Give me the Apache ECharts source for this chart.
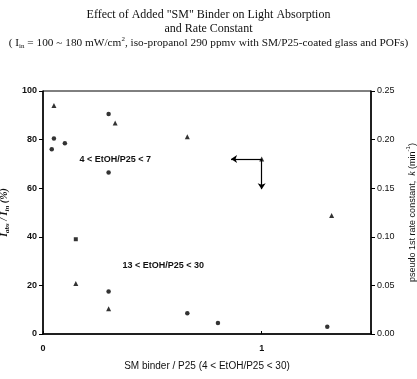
<!DOCTYPE html>
<html>
<head>
<meta charset="utf-8">
<script src="https://cdn.jsdelivr.net/npm/echarts@6/dist/echarts.min.js"></script>
<style>
  html, body { margin: 0; padding: 0; background: #fff; }
  #chart { width: 417px; height: 379px; }
</style>
</head>
<body>
<div id="chart"></div>
<script>
// light absorption, left axis (%)
const absX = [0.04, 0.05, 0.1, 0.3, 0.3, 0.3, 0.66, 0.8, 1.3]
const absY = [76, 80.5, 78.5, 90.5, 66.5, 17.5, 8.5, 4.5, 3]
// the one square marker
const absSqX = [0.15]
const absSqY = [39]
// rate constant, right axis (min^-1)
const rateX = [0.05, 0.33, 0.66, 1.32, 0.15, 0.3]
const rateY = [0.235, 0.217, 0.203, 0.122, 0.052, 0.026]

const leftTicks = [0, 20, 40, 60, 80, 100]
const rightTicks = [0, 0.05, 0.1, 0.15, 0.2, 0.25]

// arrow annotation (in rate-axis units)
const arrowStart = [1.0, 0.18]
const arrowLeftEnd = [0.86, 0.18]
const arrowDownEnd = [1.0, 0.149]

// group labels, left-axis units
const groupLabels = [
  { text: '4 < EtOH/P25 < 7', at: [0.33, 72] },
  { text: '13 < EtOH/P25 < 30', at: [0.55, 28] },
]

const chart = echarts.init(document.getElementById('chart'))

const pairs = (xs, ys) => xs.map((x, i) => [x, ys[i]])
const sub = { fontSize: 7, verticalAlign: 'bottom', lineHeight: 12, fontWeight: 'bold', fontStyle: 'italic' }

const option = {
  animation: false,
  title: {
    text: 'Effect of Added "SM" Binder on Light Absorption\nand Rate Constant',
    subtext: '( {a|I}{s|in} = 100 ~ 180 mW/cm{p|2}, iso-propanol 290 ppmv with SM/P25-coated glass and POFs)',
    left: 'center',
    top: 3,
    itemGap: 0,
    textStyle: {
      fontFamily: 'Liberation Serif',
      fontSize: 12,
      fontWeight: 'normal',
      color: '#111',
      lineHeight: 14,
    },
    subtextStyle: {
      fontFamily: 'Liberation Serif',
      fontSize: 11.3,
      color: '#111',
      lineHeight: 14,
      rich: {
        a: { fontFamily: 'Liberation Serif', fontSize: 11.3, color: '#111' },
        s: { fontFamily: 'Liberation Serif', fontSize: 7, color: '#111', verticalAlign: 'bottom', lineHeight: 12 },
        p: { fontFamily: 'Liberation Serif', fontSize: 7, color: '#111', verticalAlign: 'top', lineHeight: 14 },
      },
    },
  },
  grid: {
    left: 43,
    right: 46,
    top: 91,
    bottom: 45,
    outerBoundsMode: 'none',
    containLabel: false,
    show: true,
    borderColor: '#000',
    borderWidth: 1,
  },
  xAxis: {
    type: 'value',
    min: 0,
    max: 1.5,
    interval: 1,
    name: 'SM binder / P25 (4 < EtOH/P25 < 30)',
    nameLocation: 'middle',
    nameGap: 27,
    nameTextStyle: { fontFamily: 'Liberation Sans', fontSize: 10, color: '#111' },
    axisLine: { lineStyle: { color: '#000', width: 1.5 } },
    axisTick: { inside: true, length: 3, lineStyle: { color: '#000' } },
    axisLabel: {
      fontFamily: 'Liberation Sans',
      fontSize: 9,
      fontWeight: 'bold',
      color: '#111',
      margin: 10,
      formatter: (v) => (Number.isInteger(v) ? String(v) : ''),
    },
    splitLine: { show: false },
  },
  yAxis: [
    {
      type: 'value',
      min: leftTicks[0],
      max: leftTicks[leftTicks.length - 1],
      interval: leftTicks[1] - leftTicks[0],
      name: '{i|I}{s|abs}{i| / I}{s|in}{i| (%)}',
      nameLocation: 'middle',
      nameRotate: 90,
      nameGap: 27,
      nameTextStyle: {
        rich: {
          i: { fontFamily: 'Liberation Serif', fontSize: 10, fontWeight: 'bold', fontStyle: 'italic', color: '#111', lineHeight: 14 },
          s: Object.assign({ fontFamily: 'Liberation Serif', color: '#111' }, sub),
        },
      },
      axisLine: { show: true, lineStyle: { color: '#000', width: 1.5 } },
      axisTick: { show: true, length: 4, lineStyle: { color: '#000' } },
      axisLabel: { fontFamily: 'Liberation Sans', fontSize: 9, fontWeight: 'bold', color: '#111', margin: 6 },
      splitLine: { show: false },
    },
    {
      type: 'value',
      position: 'right',
      min: rightTicks[0],
      max: rightTicks[rightTicks.length - 1],
      interval: rightTicks[1] - rightTicks[0],
      name: '{n|pseudo 1st rate constant,  }{k|k}{n| (min}{p|-1}{n|)}',
      nameLocation: 'middle',
      nameRotate: 90,
      nameGap: 31,
      nameTextStyle: {
        rich: {
          n: { fontFamily: 'Liberation Sans', fontSize: 9, color: '#111', lineHeight: 14 },
          k: { fontFamily: 'Liberation Serif', fontSize: 10, fontStyle: 'italic', color: '#111', lineHeight: 14 },
          p: { fontFamily: 'Liberation Sans', fontSize: 6, color: '#111', verticalAlign: 'top', lineHeight: 14 },
        },
      },
      axisLine: { show: true, lineStyle: { color: '#000', width: 1.5 } },
      axisTick: { show: true, length: 4, lineStyle: { color: '#000' } },
      axisLabel: {
        fontFamily: 'Liberation Sans',
        fontSize: 9,
        color: '#111',
        margin: 6,
        formatter: (v) => v.toFixed(2),
      },
      splitLine: { show: false },
    },
  ],
  series: [
    {
      name: 'Iabs',
      type: 'scatter',
      yAxisIndex: 0,
      symbol: 'circle',
      symbolSize: 4.5,
      itemStyle: { color: '#000' },
      data: pairs(absX, absY),
      markPoint: {
        symbol: 'circle',
        symbolSize: 0,
        silent: true,
        label: {
          show: true,
          position: 'inside',
          formatter: (p) => p.name,
          fontFamily: 'Liberation Sans',
          fontSize: 9,
          fontWeight: 'bold',
          color: '#111',
        },
        data: groupLabels.map((g) => ({ name: g.text, coord: g.at })),
      },
    },
    {
      name: 'Iabs13',
      type: 'scatter',
      yAxisIndex: 0,
      symbol: 'rect',
      symbolSize: 4,
      itemStyle: { color: '#000' },
      data: pairs(absSqX, absSqY),
    },
    {
      name: 'k',
      type: 'scatter',
      yAxisIndex: 1,
      symbol: 'triangle',
      symbolSize: 5,
      itemStyle: { color: '#000' },
      data: pairs(rateX, rateY).concat([arrowStart]),
      markLine: {
        silent: true,
        symbol: ['none', 'arrow'],
        symbolSize: 6,
        label: { show: false },
        lineStyle: { color: '#000', type: 'solid', width: 1.2 },
        data: [
          [{ coord: arrowStart }, { coord: arrowLeftEnd }],
          [{ coord: arrowStart }, { coord: arrowDownEnd }],
        ],
      },
    },
  ],
}

chart.setOption(option)
</script>
</body>
</html>
